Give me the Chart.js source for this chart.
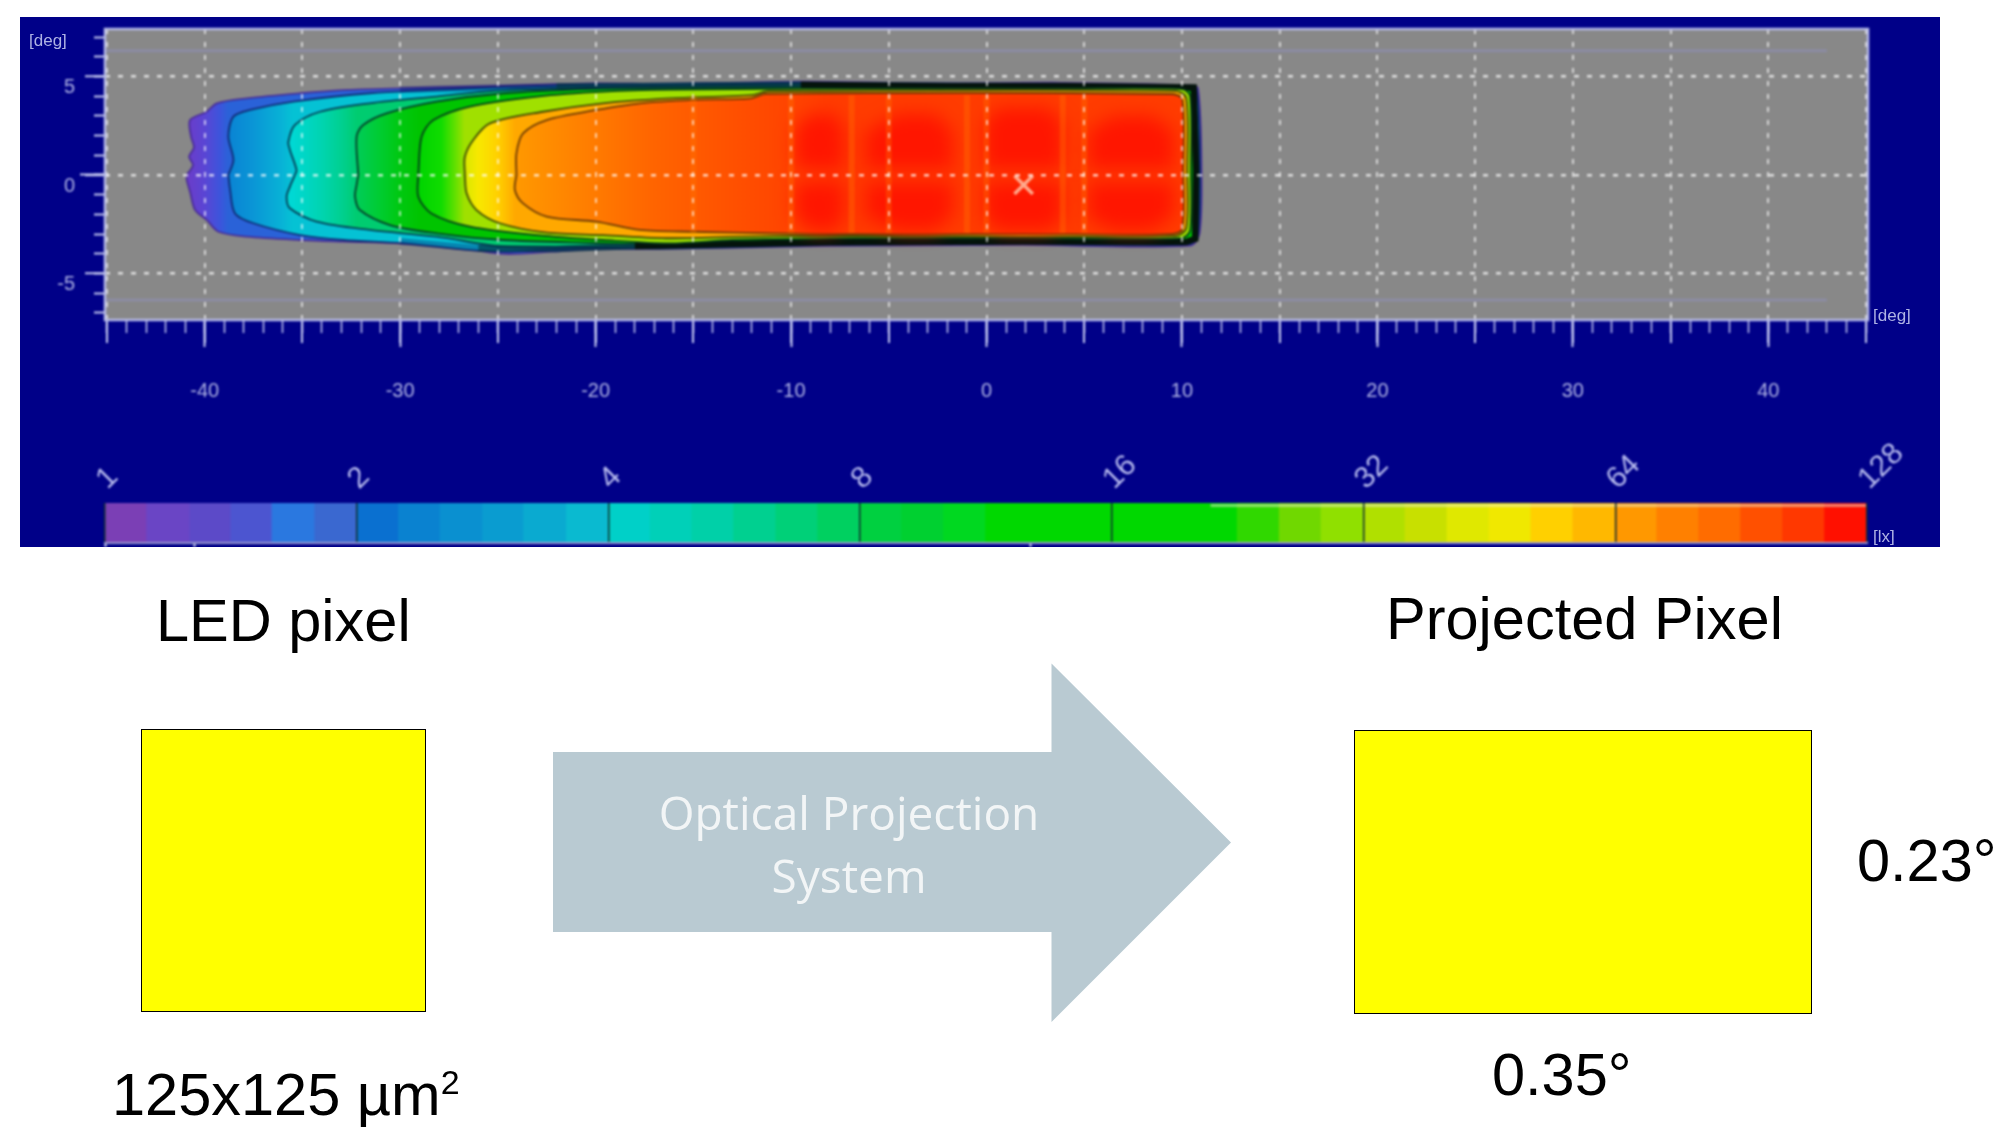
<!DOCTYPE html>
<html>
<head>
<meta charset="utf-8">
<title>LED pixel projection</title>
<script src="https://cdn.jsdelivr.net/npm/chart.js@4/dist/chart.umd.min.js"></script>
<style>
  html, body { margin: 0; padding: 0; background: #fff; }
  body { width: 2014px; height: 1138px; position: relative; overflow: hidden; font-family: "Liberation Sans", Arial, sans-serif; color: #000; }
  #navy { position: absolute; left: 20px; top: 17px; width: 1920px; height: 530px; background: #000088; overflow: hidden; }
  canvas { position: absolute; }
  #beamChart { left: 20px; top: 17px; filter: blur(1.1px); }
  #scaleChart { left: 20px; top: 430px; filter: blur(0.9px); }
  .unit { position: absolute; font: 17px "Liberation Sans", sans-serif; color: #aeb2e4; filter: blur(0.6px); }
  .label { position: absolute; font-size: 59.5px; line-height: 58px; white-space: nowrap; }
  .label sup { font-size: 34px; line-height: 0; vertical-align: 21px; }
  .pixel { position: absolute; background: #ffff00; border: 1px solid #000; box-sizing: border-box; }
  #arrow { position: absolute; left: 0; top: 0; }
  .arrowText { position: absolute; font: 46px/46px "Open Sans", Lato, sans-serif; color: #f2f5f6; width: 500px; text-align: center; left: 599px; }
</style>
</head>
<body>
<div id="navy"></div>
<canvas id="beamChart" width="1920" height="453"></canvas>
<canvas id="scaleChart" width="1920" height="117"></canvas>
<div class="unit" style="left:29px;top:31px">[deg]</div>
<div class="unit" style="left:1873px;top:306px">[deg]</div>
<div class="unit" style="left:1873px;top:527px;height:20px;overflow:hidden">[lx]</div>

<div class="label" style="left:156px;top:592px">LED pixel</div>
<div class="label" style="left:1386px;top:590px">Projected Pixel</div>
<div class="pixel" style="left:141px;top:729px;width:285px;height:283px"></div>
<div class="pixel" style="left:1354px;top:730px;width:458px;height:284px"></div>
<svg id="arrow" width="2014" height="1138"><polygon points="553,752 1051.5,752 1051.5,663.5 1231,842.5 1051.5,1022 1051.5,932 553,932" fill="#b9cad2"/></svg>
<div class="arrowText" style="top:789px">Optical Projection</div>
<div class="arrowText" style="top:852px">System</div>
<div class="label" style="left:112px;top:1066px">125x125 µm<sup>2</sup></div>
<div class="label" style="left:1857px;top:832px">0.23°</div>
<div class="label" style="left:1492px;top:1046px">0.35°</div>

<script>
// Isolux contours, [deg horizontal, deg vertical]
const contour1 = [[-40.92,0],[-40.6,0.5],[-40.8,0.93],[-40.55,1.4],[-40.7,1.95],[-40.75,2.79],[-39.9,3.21],[-39.38,3.64],[-37.85,3.89],[-35.12,4.15],[-32.91,4.31],[-30,4.4],[-26.4,4.48],[-23,4.57],[-20,4.65],[-16.2,4.62],[-9.5,4.74],[-2.1,4.64],[3.8,4.68],[10.4,4.55],[10.82,4.4],[11,0.25],[10.9,-2.96],[10.43,-3.58],[1.82,-3.55],[-7.96,-3.6],[-12.85,-3.68],[-17.74,-3.75],[-20,-3.75],[-22.2,-3.89],[-24.4,-4.01],[-25.4,-3.94],[-27.1,-3.64],[-30,-3.47],[-32.91,-3.38],[-35.12,-3.3],[-37.85,-3.13],[-39.3,-2.88],[-39.9,-2.28],[-40.49,-1.78],[-40.75,-0.85],[-40.92,-0.25],[-40.92,0]];
const contour2 = [[-38.79,0],[-38.53,0.76],[-38.79,1.95],[-38.53,2.96],[-37.68,3.3],[-35.47,3.72],[-31.55,4.15],[-26.43,4.4],[-19.62,4.6],[-9.5,4.68],[3.8,4.62],[10.3,4.5],[10.75,4.35],[10.92,0.25],[10.82,-2.96],[10.35,-3.52],[1.82,-3.5],[-7.96,-3.55],[-16.2,-3.74],[-21.32,-3.72],[-24.39,-3.89],[-26.43,-3.81],[-29.84,-3.47],[-32.91,-3.3],[-35.12,-3.05],[-37.51,-2.45],[-38.45,-1.95],[-38.7,-0.76],[-38.79,0]];
const contour4 = [[-35.38,0],[-35.3,0.25],[-35.64,1.27],[-35.72,1.69],[-35.38,2.54],[-34.1,3.21],[-31.55,3.64],[-28.14,3.98],[-24.73,4.31],[-19.62,4.48],[-9.5,4.6],[3.8,4.55],[10.2,4.45],[10.65,4.3],[10.85,0.25],[10.75,-2.96],[10.3,-3.46],[1.82,-3.45],[-7.96,-3.5],[-16.2,-3.67],[-21.32,-3.64],[-24.73,-3.64],[-28.14,-3.13],[-31.55,-2.79],[-34.27,-2.37],[-35.64,-1.69],[-35.81,-1.1],[-35.64,-0.59],[-35.38,0]];
const contour8 = [[-32.14,0],[-32.23,1.95],[-31.89,2.54],[-30.69,3.13],[-28.14,3.72],[-24.73,4.15],[-19.62,4.4],[-16.2,4.48],[-9.5,4.5],[3.8,4.48],[10.1,4.4],[10.55,4.2],[10.78,0.25],[10.68,-2.96],[10.23,-3.4],[1.82,-3.4],[-7.96,-3.47],[-16.2,-3.59],[-19.62,-3.47],[-24.73,-3.3],[-28.14,-2.96],[-30.52,-2.54],[-32.06,-1.78],[-32.31,-1.1],[-32.23,-0.51],[-32.14,0]];
const contour16 = [[-29.07,0.08],[-28.9,1.95],[-28.3,2.79],[-26.43,3.47],[-23,3.98],[-19.62,4.23],[-16.2,4.33],[-9.5,4.38],[3.8,4.38],[10,4.36],[10.42,4.0],[10.46,0.25],[10.42,-2.8],[10,-3.2],[1.82,-3.2],[-7.96,-3.22],[-13,-3.3],[-16.2,-3.47],[-19.62,-3.3],[-23,-3.05],[-26.43,-2.62],[-28.4,-1.95],[-29.07,-1.1],[-29.07,0.08]];
const contour32 = [[-26.69,0],[-26.69,0.93],[-26.26,1.78],[-25.41,2.62],[-22.69,3.21],[-19.62,3.64],[-16.2,3.89],[-12,4.05],[-11.2,4.25],[9.64,4.27],[10.22,3.9],[10.27,0.25],[10.22,-2.7],[9.64,-3.1],[-10.9,-3.1],[-16.2,-3.21],[-19.62,-3.05],[-22.5,-2.93],[-24.9,-2.45],[-26.09,-1.78],[-26.6,-0.93],[-26.69,0]];
const contour64 = [[-24.05,0],[-24.05,1.1],[-23.71,2.11],[-22.5,2.79],[-19.96,3.3],[-17.74,3.64],[-15,3.81],[-12.07,3.89],[-11.3,4.12],[9.45,4.11],[10.02,3.85],[10.07,0.25],[10.02,-2.75],[9.45,-3.0],[1.82,-3.0],[-5.03,-3.02],[-10.9,-2.96],[-15,-2.88],[-17.74,-2.79],[-19.96,-2.37],[-22.5,-2.11],[-23.71,-1.44],[-24.13,-0.76],[-24.05,0]];

// Colour across each band, [deg horizontal, colour]
const stops1 = [[-41,'#6d3cc8'],[-40,'#5a45d4'],[-39.2,'#3c55dc'],[-38.8,'#2a62d8']];
const stops2 = [[-38.7,'#0a84d4'],[-37.5,'#0a96d6'],[-36,'#08b4d6'],[-35.5,'#05c2d4']];
const stops4 = [[-35.5,'#00d8d4'],[-34,'#00d4b0'],[-33,'#00d090'],[-32.2,'#00cc70']];
const stops8 = [[-32.2,'#00cc58'],[-31,'#00cc30'],[-30,'#00c810'],[-29,'#00c400']];
const stops16 = [[-29,'#00d400'],[-27.9,'#10dc00'],[-27.2,'#60e000'],[-26.7,'#a0e000']];
const stops32 = [[-26.7,'#d8e800'],[-26,'#f8e800'],[-25,'#ffd000'],[-24.1,'#ffa800']];
const stops64 = [[-24,'#ff9800'],[-21,'#ff8200'],[-17,'#ff6400'],[-12,'#ff4c00'],[-8,'#ff3c00'],[10,'#ff3c00']];

// Dark rim of the pattern along the top, the right side and the bottom
const darkRim = [[-30,4.33],[-26,4.42],[-22,4.5],[-16,4.52],[-9.5,4.58],[-2,4.5],[4,4.52],[10.6,4.44],[10.72,0.25],[10.68,-3.24],[10.2,-3.4],[2,-3.38],[-8,-3.42],[-13,-3.5],[-18,-3.6],[-22,-3.75],[-26,-3.72],[-30,-3.38]];

// Hot spots inside the top contour
const hotSpots = [
  [[-9.8,2.4],[-9,3.1],[-7.8,3.1],[-7.3,2.4],[-7.3,0.3],[-9.8,0.3]],
  [[-9.8,-0.35],[-7.3,-0.35],[-7.3,-2.2],[-7.8,-2.8],[-9,-2.8],[-9.8,-2.2]],
  [[-6.2,2.2],[-4.5,3.1],[-2.6,3.1],[-1.7,2.2],[-1.7,0.3],[-6.2,0.3]],
  [[-6.2,-0.35],[-1.7,-0.35],[-1.7,-2],[-2.6,-2.8],[-4.5,-2.8],[-6.2,-2.2]],
  [[-0.1,2.6],[0.6,3.4],[3.2,3.4],[3.9,2.6],[3.9,0.3],[-0.1,0.3]],
  [[-0.1,-0.35],[3.9,-0.35],[3.9,-2.2],[3.2,-2.8],[0.6,-2.8],[-0.1,-2.2]],
  [[5.2,2.2],[6.5,3],[8.5,3],[9.6,2.2],[9.6,0.3],[5.2,0.3]],
  [[5.2,-0.35],[9.6,-0.35],[9.6,-2],[8.5,-2.8],[6.5,-2.8],[5.2,-2.2]]
];

// Lighter vertical seams in the hot zone
const seamX = [-15, -10, -6.9, -5, -1, 0, 3.9, 5];

// Faint stripes in the grey background, deg vertical
const faintY = [6.3, -6.35];

// Maximum marker
const maxMark = [[1.9, -0.5]];

// Colour scale: step centres in lx and their colours
const scaleLux = [1.06,1.19,1.34,1.50,1.68,1.89,2.12,2.38,2.67,3.00,3.36,3.78,4.24,4.76,5.34,5.99,6.73,7.55,8.48,9.51,10.68,11.99,13.45,15.10,16.95,19.03,21.36,23.97,26.91,30.20,33.9,38.05,42.71,47.95,53.82,60.41,67.81,76.11,85.43,95.89,107.63,120.81];
const scaleColors = ['#7b3fb5','#6a45c5','#5c4ac8','#4c55d0','#2a78e0','#3a68d0',
  '#0a70d0','#0a82d0','#0a90d0','#0a9cd0','#0aaad0','#0abad0',
  '#00d0c8','#00d0b8','#00d0a8','#00d090','#00d078','#00d060',
  '#00d040','#00d030','#00d820','#00d800','#00d800','#00d800',
  '#00d800','#00d800','#00d800','#30d800','#70d800','#90e000',
  '#b0e000','#c8e000','#e0e800','#f0e800','#ffd000','#ffb800',
  '#ff9800','#ff8000','#ff6c00','#ff5000','#ff3800','#ff1000'];
const scaleTicks = [1, 2, 4, 8, 16, 32, 64, 128];
const scaleBottomTicks = [1, 1.28, 12.8];

const toPoints = list => list.map(([x, y]) => ({ x, y }));

const axisColor = '#c4c8f0';
const labelColor = '#aeb2e4';
const labelFont = { family: '"Liberation Sans", sans-serif', size: 20 };

// Fills a closed dataset with a horizontal gradient, through the chart's own scales
const polygonFill = {
  id: 'polygonFill',
  beforeDatasetDraw(chart, args) {
    const ds = chart.data.datasets[args.index];
    if (!ds.stops && !ds.softColor) return;
    const ctx = chart.ctx;
    // same smoothed path the line element will draw
    if (args.meta.dataset) args.meta.dataset.updateControlPoints(chart.chartArea, 'x');
    const pts = args.meta.data;
    ctx.save();
    ctx.beginPath();
    pts.forEach((p, i) => {
      if (!i) ctx.moveTo(p.x, p.y);
      else if (ds.tension) ctx.bezierCurveTo(pts[i - 1].cp2x, pts[i - 1].cp2y, p.cp1x, p.cp1y, p.x, p.y);
      else ctx.lineTo(p.x, p.y);
    });
    ctx.closePath();
    if (ds.stops) {
      const xs = chart.scales.x;
      const a = xs.getPixelForValue(ds.stops[0][0]);
      const b = xs.getPixelForValue(ds.stops[ds.stops.length - 1][0]);
      const grad = ctx.createLinearGradient(a, 0, b, 0);
      ds.stops.forEach(([x, c]) => grad.addColorStop((xs.getPixelForValue(x) - a) / (b - a), c));
      ctx.fillStyle = grad;
    } else {
      ctx.filter = 'blur(9px)';
      ctx.fillStyle = ds.softColor;
    }
    ctx.fill();
    ctx.restore();
  }
};

// Grey plot background and its frame
const plotFrame = {
  id: 'plotFrame',
  beforeDraw(chart) {
    const { left, top, width, height } = chart.chartArea;
    chart.ctx.fillStyle = '#888888';
    chart.ctx.fillRect(left, top, width, height);
  },
  afterDraw(chart) {
    const { left, top, width, height } = chart.chartArea;
    chart.ctx.strokeStyle = '#b4b8e6';
    chart.ctx.lineWidth = 2.5;
    chart.ctx.strokeRect(left, top, width, height);
  }
};

// Pale edge line of the colour scale
const scaleEdges = {
  id: 'scaleEdges',
  afterDatasetsDraw(chart) {
    const { top, right } = chart.chartArea;
    const from = chart.scales.x.getPixelForValue(21);
    chart.ctx.fillStyle = 'rgba(235,235,210,0.5)';
    chart.ctx.fillRect(from, top + 1, right - from, 3);
  }
};

const contourLine = (list, stops, line) => ({
  data: toPoints(list), stops, showLine: true, pointRadius: 0,
  borderColor: line, borderWidth: 1.8, tension: 0.3
});

// Rim goes from thin navy on the left to black on the right
const rimColor = ctx => {
  const x = ctx.p0.parsed.x;
  if (x < -24) return 'rgba(10,20,110,0.35)';
  if (x < -15) return 'rgba(4,50,70,0.75)';
  return '#04140c';
};

// First entry is painted first, the order value is set below
const beamSets = faintY.map(y => ({
  data: [{ x: -45.1, y }, { x: 43, y }], showLine: true, pointRadius: 0,
  borderColor: 'rgba(150,150,225,0.3)', borderWidth: 3
}));
beamSets.push(
  contourLine(contour1, stops1, 'rgba(70,40,150,0.9)'),
  contourLine(contour2, stops2, 'rgba(15,30,100,0.85)'),
  contourLine(contour4, stops4, 'rgba(5,55,80,0.95)'),
  contourLine(contour8, stops8, 'rgba(5,55,40,0.95)'),
  { data: toPoints(darkRim), showLine: true, pointRadius: 0, borderColor: '#04140c', borderWidth: 6.5,
    segment: { borderColor: rimColor } },
  contourLine(contour16, stops16, 'rgba(5,65,25,1)'),
  contourLine(contour32, stops32, 'rgba(55,65,5,0.95)'),
  contourLine(contour64, stops64, 'rgba(95,50,5,0.9)')
);
hotSpots.forEach(spot => beamSets.push({ data: toPoints(spot), softColor: '#ff1600', showLine: false, pointRadius: 0 }));
seamX.forEach(x => beamSets.push({
  data: [{ x, y: -2.95 }, { x, y: 4.05 }], showLine: true, pointRadius: 0,
  borderColor: 'rgba(255,125,0,0.3)', borderWidth: 6
}));
beamSets.push({
  data: toPoints(maxMark), showLine: false, pointStyle: 'crossRot', pointRadius: 13,
  borderColor: '#ffa98c', borderWidth: 3.5
});
beamSets.forEach((ds, i) => { ds.order = beamSets.length - i; });

// Fixed size for a scale, without the extra room for its labels
const fixSize = (key, size) => scale => {
  scale[key] = size;
  scale.paddingTop = scale.paddingBottom = scale.paddingLeft = scale.paddingRight = 0;
};

const xRange = { type: 'linear', axis: 'x', position: 'bottom', min: -45.1, max: 45.1 };
const yRange = { type: 'linear', axis: 'y', position: 'left', min: -7.36, max: 7.41 };
const tickOnly = { drawOnChartArea: false, tickColor: axisColor, tickWidth: 2 };

new Chart(document.getElementById('beamChart'), {
  type: 'scatter',
  data: { datasets: beamSets },
  plugins: [plotFrame, polygonFill],
  options: {
    responsive: false,
    animation: false,
    events: [],
    layout: { autoPadding: false, padding: { left: 0, right: 72, top: 12, bottom: 0 } },
    plugins: { legend: { display: false }, tooltip: { enabled: false } },
    scales: {
      // 1 degree ticks
      x: { ...xRange, weight: 1, afterFit: fixSize('height', 0),
        border: { display: false },
        grid: { ...tickOnly, tickLength: 13, tickWidth: 1.5 },
        ticks: { stepSize: 1, includeBounds: false, autoSkip: false, display: false } },
      // 5 degree ticks and the dashed grid
      x5: { ...xRange, weight: 2, afterFit: fixSize('height', 0),
        border: { display: false, dash: [5, 8] },
        grid: { z: 1, color: 'rgba(255,255,255,0.65)', lineWidth: 2, tickColor: axisColor, tickWidth: 2, tickLength: 23 },
        ticks: { stepSize: 5, includeBounds: false, autoSkip: false, display: false } },
      // 10 degree ticks with the labels
      x10: { ...xRange, weight: 3, afterFit: fixSize('height', 150),
        border: { display: false },
        grid: { ...tickOnly, tickLength: 27 },
        ticks: { stepSize: 10, includeBounds: false, autoSkip: false, color: labelColor, font: labelFont,
          padding: 32, maxRotation: 0, minRotation: 0 } },
      y: { ...yRange, weight: 1, afterFit: fixSize('width', 0),
        border: { display: false },
        grid: { ...tickOnly, tickLength: 11 },
        ticks: { stepSize: 1, includeBounds: false, autoSkip: false, display: false } },
      y0: { ...yRange, weight: 2, afterFit: fixSize('width', 0),
        border: { display: false },
        grid: { ...tickOnly, tickLength: 25 },
        ticks: { stepSize: 100, includeBounds: false, autoSkip: false, display: false } },
      y5: { ...yRange, weight: 3, afterFit: fixSize('width', 85),
        border: { display: false, dash: [5, 8] },
        grid: { z: 1, color: 'rgba(255,255,255,0.72)', lineWidth: 2.5, tickColor: axisColor, tickWidth: 2, tickLength: 20 },
        ticks: { stepSize: 5, includeBounds: false, autoSkip: false, color: labelColor, font: labelFont,
          padding: 10, labelOffset: 11 } }
    }
  }
});

// Colour scale, log 2 axis from 1 to 128 lx
const scaleRange = { type: 'logarithmic', axis: 'x', min: 1, max: 128 };
new Chart(document.getElementById('scaleChart'), {
  type: 'bar',
  data: {
    datasets: [{
      data: scaleLux.map(x => ({ x, y: 1 })),
      backgroundColor: scaleColors,
      borderWidth: 0,
      barThickness: 43
    }]
  },
  plugins: [scaleEdges],
  options: {
    responsive: false,
    animation: false,
    events: [],
    layout: { padding: { left: 85, right: 73, top: 0, bottom: 0 } },
    plugins: { legend: { display: false }, tooltip: { enabled: false } },
    scales: {
      x: { ...scaleRange, position: 'top', offset: false,
        afterBuildTicks: scale => { scale.ticks = scaleTicks.map(value => ({ value })); },
        afterFit: fixSize('height', 73),
        border: { display: false },
        grid: { z: 1, offset: false, color: '#103030', lineWidth: 1.5, drawTicks: false },
        ticks: { autoSkip: false, color: '#b4b8ec', font: { family: '"Liberation Sans", sans-serif', size: 30 },
          padding: 6, labelOffset: 22, minRotation: 45, maxRotation: 45, callback: value => String(value) } },
      xb: { ...scaleRange, position: 'bottom', offset: false,
        afterBuildTicks: scale => { scale.ticks = scaleBottomTicks.map(value => ({ value })); },
        afterFit: fixSize('height', 5),
        border: { color: 'rgba(215,215,235,0.7)', width: 3 },
        grid: { offset: false, drawOnChartArea: false, tickColor: '#d8dcf4', tickWidth: 2, tickLength: 5 },
        ticks: { display: false, autoSkip: false } },
      y: { type: 'linear', min: 0, max: 1, display: false }
    }
  }
});
</script>
</body>
</html>
